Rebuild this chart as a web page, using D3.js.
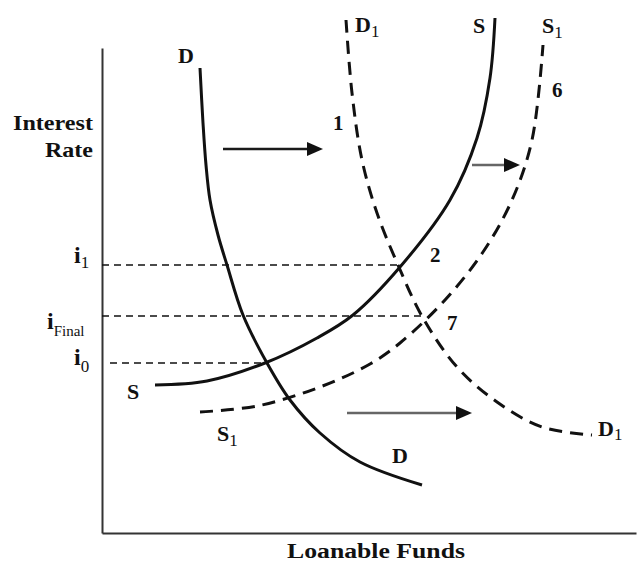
<!DOCTYPE html>
<html><head><meta charset="utf-8">
<script src="https://cdn.jsdelivr.net/npm/d3@7"></script>
<style>
html,body{margin:0;padding:0;background:#fff;}
svg{display:block;}
text{font-family:"Liberation Serif","DejaVu Serif",serif;font-weight:bold;fill:#111;}
</style></head>
<body>
<svg id="chart" width="638" height="568"></svg>
<script>
// Curves in arbitrary data units: [loanable funds, interest rate]
const demandD = [[98,465],[101,410],[104,368],[108,333],[116,298],[125,268],[141,218],[165,170],[188,133],[218,100],[258,71],[320,48]];
const supplyS = [[53,148],[105,152],[163,170],[215,195],[251,218],[298,266],[348,333],[375,395],[388,455],[393,515]];
const demandD1 = [[244,513],[250,440],[260,373],[275,320],[296,268],[321,215],[355,166],[395,131],[440,106],[490,98]];
const supplyS1 = [[98,121],[155,127],[218,146],[268,169],[298,190],[343,233],[381,281],[410,333],[430,393],[441,488]];
// Interest rate levels
const rateNames = ["1", "Final", "0"];
const rateValues = [268, 217, 170];
const rateStart = [0, 0, 8];
const rateEnd = [298, 323, 163];
// Shift arrows: x0, x1, y
const arrowX0 = [121, 370, 245];
const arrowX1 = [221, 418, 370];
const arrowY = [384, 368, 120];
const arrowColor = ["#1a1a1a", "#666", "#666"];

const svg = d3.select("#chart");
const x = d3.scaleLinear().domain([0, 534]).range([102, 636]);
const y = d3.scaleLinear().domain([0, 485]).range([533, 48]);

// axes
svg.append("g").attr("transform", `translate(0,${y(0)})`)
  .call(d3.axisBottom(x).tickValues([]).tickSizeOuter(0));
svg.append("g").attr("transform", `translate(${x(0)},0)`)
  .call(d3.axisLeft(y).tickValues([]).tickSizeOuter(0));
svg.selectAll(".domain").attr("stroke", "#333").attr("stroke-width", 2);

// rate lines
rateValues.forEach((r, i) => {
  svg.append("line")
    .attr("x1", x(rateStart[i])).attr("x2", x(rateEnd[i]))
    .attr("y1", y(r)).attr("y2", y(r))
    .attr("stroke", "#111").attr("stroke-width", 1.6)
    .attr("stroke-dasharray", "7,5");
});

const line = d3.line().x(d => x(d[0])).y(d => y(d[1])).curve(d3.curveCatmullRom.alpha(0.5));
function curve(data, dashed) {
  svg.append("path").attr("d", line(data))
    .attr("fill", "none").attr("stroke", "#111").attr("stroke-width", 3)
    .attr("stroke-dasharray", dashed ? "13,8" : null);
}
curve(demandD, false);
curve(supplyS, false);
curve(demandD1, true);
curve(supplyS1, true);

// arrows
arrowY.forEach((ay, i) => {
  const xa = x(arrowX0[i]), xb = x(arrowX1[i]), yy = y(ay);
  svg.append("line").attr("x1", xa).attr("x2", xb - 12).attr("y1", yy).attr("y2", yy)
    .attr("stroke", arrowColor[i]).attr("stroke-width", 2.6);
  svg.append("path").attr("d", `M${xb},${yy} L${xb-16},${yy-7} L${xb-16},${yy+7} Z`).attr("fill", "#111");
});

// text helpers
function txt(s, px, py, size, anchor, len) {
  const t = svg.append("text").attr("x", px).attr("y", py).attr("font-size", size)
    .attr("text-anchor", anchor || "start").text(s);
  if (len) t.attr("textLength", len).attr("lengthAdjust", "spacingAndGlyphs");
  return t;
}
function sub(main, s, px, py, size, subSize, dy) {
  const t = svg.append("text").attr("x", px).attr("y", py).attr("font-size", size);
  t.append("tspan").text(main);
  t.append("tspan").attr("dy", dy).attr("font-size", subSize).attr("font-weight", "normal").text(s);
}

txt("Interest", 93, 130, 22, "end", 80);
txt("Rate", 93, 157, 22, "end", 48);
txt("Loanable Funds", 287, 558, 20, "start", 178);

// curve labels
txt("D", x(84), y(470), 22, "middle");
txt("D", x(298), y(70), 22, "middle");
sub("D", "1", x(253), y(501), 22, 17, 5);
sub("D", "1", x(496), y(97), 22, 17, 4);
txt("S", x(377), y(500), 22, "middle");
txt("S", x(31), y(134), 22, "middle");
sub("S", "1", x(440), y(500), 22, 17, 5);
sub("S", "1", x(115), y(92), 22, 17, 5);
txt("1", x(231), y(403), 21, "start");
txt("6", x(450), y(436), 21, "start");
txt("2", x(328), y(271), 21, "start");
txt("7", x(345), y(203), 21, "start");

// rate labels
sub("i", rateNames[0], 74, 263, 24, 17, 5);
sub("i", rateNames[1], 47, 329, 24, 15, 7);
sub("i", rateNames[2], 74, 365, 24, 17, 7);
</script>
</body></html>
